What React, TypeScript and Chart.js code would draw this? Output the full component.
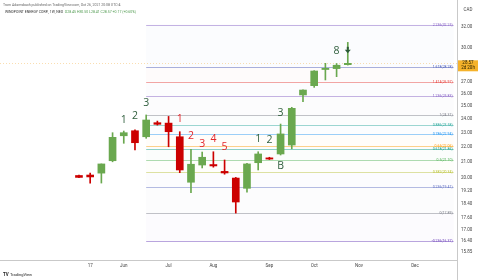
import React, { useEffect, useRef } from "react";
import { Chart, registerables } from "chart.js";

Chart.register(...registerables);

// ---- data (weekly candles, CAD) ----
const weeks = ["May 10", "May 17", "May 24", "May 31", "Jun 7", "Jun 14", "Jun 21", "Jun 28", "Jul 5", "Jul 12", "Jul 19", "Jul 26", "Aug 2", "Aug 9", "Aug 16", "Aug 23", "Aug 30", "Sep 6", "Sep 13", "Sep 20", "Sep 27", "Oct 4", "Oct 11", "Oct 18", "Oct 25"];
const opens = [20.12, 20.15, 20.27, 21.07, 22.78, 23.14, 22.71, 23.73, 23.7, 22.71, 19.7, 20.79, 20.82, 20.38, 19.96, 19.33, 20.94, 21.25, 21.52, 22.13, 25.88, 26.64, 28.02, 28.1, 28.45];
const highs = [20.14, 20.27, 20.86, 23.0, 23.12, 23.2, 24.31, 23.85, 24.2, 23.07, 21.84, 21.65, 21.67, 21.12, 20.0, 20.9, 21.67, 21.3, 23.63, 24.9, 26.3, 27.92, 28.57, 28.55, 30.5];
const lows = [19.98, 19.65, 19.65, 21.0, 22.25, 21.79, 22.6, 23.55, 22.01, 20.3, 19.07, 20.6, 20.65, 20.2, 17.89, 19.1, 20.47, 21.15, 21.45, 21.87, 25.34, 26.5, 27.12, 27.4, 28.41];
const closes = [20.0, 20.03, 20.86, 22.67, 23.0, 22.29, 23.93, 23.61, 23.07, 20.47, 20.84, 21.3, 20.73, 20.28, 18.52, 20.86, 21.52, 21.18, 22.91, 24.82, 26.28, 27.89, 28.04, 28.4, 28.57];

const xTickIdx = [1, 4, 8, 12, 17, 21, 25, 30];
const xTickText = ["17", "Jun", "Jul", "Aug", "Sep", "Oct", "Nov", "Dec"];
const yTicks = [32, 30, 27, 26, 25, 24, 23, 22, 21, 20, 19.2, 18.4, 17.6, 17, 16.4, 15.85];

// Fibonacci retracement levels drawn from the Jun 21 bar
const fibRatios = ["2.236", "1.618", "1.414", "1.236", "1", "0.886", "0.786", "0.65", "0.618", "0.5", "0.382", "0.236", "0", "-0.236"];
const fibValues = [32.25, 28.28, 26.97, 25.83, 24.31, 23.58, 22.94, 22.06, 21.86, 21.1, 20.34, 19.41, 17.89, 16.37];
const fibColors = ["#7e57c2", "#3f51b5", "#e53935", "#7e57c2", "#787b86", "#26a69a", "#2196f3", "#ff9800", "#089981", "#4caf50", "#b8c232", "#5c6bc0", "#787b86", "#673ab7"];
const fibStartIdx = 6;
const fibEndIdx = 33.45;

// sequential count labels
const tdIdx = [4, 5, 6, 9, 10, 11, 12, 13, 16, 17, 18, 18, 23];
const tdText = ["1", "2", "3", "1", "2", "3", "4", "5", "1", "2", "3", "B", "8"];
const tdPrice = [23.93, 24.23, 25.23, 24.0, 22.76, 22.2, 22.55, 21.99, 22.55, 22.48, 24.46, 20.73, 29.69];
const tdUp = [true, true, true, false, false, false, false, false, true, true, true, true, true];
const arrowIdx = 24;
const arrowPrice = 29.8;

const UP = "#6aa84f";
const DOWN = "#cc0000";
const LABEL_GREEN = "#2f5e3c";
const LABEL_RED = "#e3262b";

const overlay = {
  id: "overlay",
  beforeDatasetsDraw(chart: any) {
    const { ctx, chartArea } = chart;
    const xs = chart.scales.x;
    const ys = chart.scales.y;
    const x0 = xs.getPixelForValue(fibStartIdx);
    const x1 = xs.getPixelForValue(fibEndIdx);
    ctx.save();
    for (let i = 0; i < fibValues.length - 1; i++) {
      const ya = ys.getPixelForValue(fibValues[i]);
      const yb = ys.getPixelForValue(fibValues[i + 1]);
      ctx.globalAlpha = 0.018;
      ctx.fillStyle = fibColors[i + 1];
      ctx.fillRect(x0, ya, x1 - x0, yb - ya);
    }
    ctx.lineWidth = 1;
    ctx.font = "3.5px Roboto";
    ctx.textAlign = "right";
    ctx.textBaseline = "middle";
    for (let i = 0; i < fibValues.length; i++) {
      const y = Math.round(ys.getPixelForValue(fibValues[i])) + 0.5;
      ctx.globalAlpha = 0.45;
      ctx.strokeStyle = fibColors[i];
      ctx.beginPath();
      ctx.moveTo(x0, y);
      ctx.lineTo(x1, y);
      ctx.stroke();
      ctx.globalAlpha = 1;
      ctx.fillStyle = fibColors[i];
      ctx.fillText(`${fibRatios[i]}(${fibValues[i].toFixed(2)})`, x1 - 1, y);
    }
    // last price line
    const last = closes[closes.length - 1];
    const py = Math.round(ys.getPixelForValue(last)) + 0.5;
    ctx.globalAlpha = 0.35;
    ctx.strokeStyle = "#f0a020";
    ctx.setLineDash([1, 2]);
    ctx.beginPath();
    ctx.moveTo(chartArea.left, py);
    ctx.lineTo(chartArea.right, py);
    ctx.stroke();
    ctx.restore();
  },
  afterDatasetsDraw(chart: any) {
    const { ctx } = chart;
    const xs = chart.scales.x;
    const ys = chart.scales.y;
    ctx.save();
    ctx.font = "10.5px 'Open Sans'";
    ctx.textAlign = "center";
    ctx.textBaseline = "middle";
    for (let i = 0; i < tdIdx.length; i++) {
      ctx.fillStyle = tdUp[i] ? LABEL_GREEN : LABEL_RED;
      ctx.fillText(tdText[i], xs.getPixelForValue(tdIdx[i]), ys.getPixelForValue(tdPrice[i]));
    }
    // down arrow
    const ax = xs.getPixelForValue(arrowIdx);
    const ay = ys.getPixelForValue(arrowPrice);
    ctx.fillStyle = "#2a5a36";
    ctx.fillRect(ax - 1, ay - 3, 2, 3);
    ctx.beginPath();
    ctx.moveTo(ax - 3, ay);
    ctx.lineTo(ax + 3, ay);
    ctx.lineTo(ax, ay + 3.5);
    ctx.closePath();
    ctx.fill();
    ctx.restore();
  },
  afterDraw(chart: any) {
    const { ctx, chartArea } = chart;
    const ys = chart.scales.y;
    ctx.save();
    ctx.strokeStyle = "#c9c9c9";
    ctx.lineWidth = 1;
    ctx.beginPath();
    ctx.moveTo(chartArea.right + 0.5, chartArea.bottom);
    ctx.lineTo(chartArea.right + 0.5, 280);
    ctx.stroke();
    // header
    ctx.textAlign = "left";
    ctx.textBaseline = "middle";
    ctx.font = "3.5px Roboto";
    ctx.fillStyle = "#666";
    ctx.fillText("Trom Adamsbach published on TradingView.com, Oct 26, 2021 20:08 UTC-4", 3, 5);
    const name = "WINDPOINT ENERGY CORP., 1W, NEO  ";
    ctx.fillStyle = "#333";
    ctx.fillText(name, 5, 12);
    const w = ctx.measureText(name).width;
    const n = closes.length - 1;
    const chg = closes[n] - closes[n - 1];
    ctx.fillStyle = "#4f9a4f";
    ctx.fillText(
      `O${opens[n].toFixed(2)} H${highs[n].toFixed(2)} L${lows[n].toFixed(2)} C${closes[n].toFixed(2)} +${chg.toFixed(2)} (+${((chg / closes[n - 1]) * 100).toFixed(2)}%)`,
      5 + w,
      12
    );
    // currency
    ctx.font = "4.5px Roboto";
    ctx.fillStyle = "#444";
    ctx.textAlign = "center";
    ctx.fillText("CAD", chartArea.right + 11, 10);
    // last price label
    const last = closes[n];
    const py = ys.getPixelForValue(last);
    ctx.fillStyle = "#f5b22a";
    ctx.fillRect(chartArea.right + 1, py - 3, 20, 11);
    ctx.fillStyle = "#2b2100";
    ctx.font = "4.5px Roboto";
    ctx.fillText(last.toFixed(2), chartArea.right + 11, py);
    ctx.fillText("2d 20h", chartArea.right + 11, py + 5);
    // logo
    ctx.textAlign = "left";
    ctx.font = "bold 4.5px Roboto";
    ctx.fillStyle = "#222";
    ctx.fillText("TV", 3, 275);
    ctx.font = "4px Roboto";
    ctx.fillText("TradingView", 10, 275);
    ctx.restore();
  },
};

export default function App() {
  const ref = useRef<HTMLCanvasElement>(null);
  useEffect(() => {
    document.body.style.margin = "0";
    const canvas = ref.current;
    if (!canvas) return;
    const colors = closes.map((c, i) => (c >= opens[i] ? UP : DOWN));
    const chart = new Chart(canvas, {
      type: "bar",
      data: {
        datasets: [
          {
            label: "wick",
            data: weeks.map((_, i) => ({ x: i, y: [lows[i], highs[i]] })) as any,
            backgroundColor: colors,
            barThickness: 1,
            grouped: false,
            borderWidth: 0,
            order: 2,
          } as any,
          {
            label: "body",
            data: weeks.map((_, i) => ({ x: i, y: [opens[i], closes[i]] })) as any,
            backgroundColor: colors,
            barThickness: 7,
            minBarLength: 1.2,
            grouped: false,
            borderWidth: 0,
            order: 1,
          } as any,
        ],
      },
      options: {
        responsive: false,
        animation: false,
        devicePixelRatio: 1,
        layout: { padding: 0 },
        plugins: { legend: { display: false }, tooltip: { enabled: false } },
        scales: {
          x: {
            type: "linear",
            offset: false,
            min: -7.05,
            max: 33.75,
            grid: { display: false, drawTicks: false },
            border: { display: true, color: "#c9c9c9" },
            afterBuildTicks: (s: any) => {
              s.ticks = xTickIdx.map((v) => ({ value: v }));
            },
            afterFit: (s: any) => {
              s.height = 20;
              s.paddingLeft = 0;
              s.paddingRight = 0;
            },
            ticks: {
              autoSkip: false,
              maxRotation: 0,
              padding: 3,
              color: "#444",
              font: { size: 4.5, family: "Roboto" },
              callback: (v: any) => {
                const k = xTickIdx.indexOf(Number(v));
                return k >= 0 ? xTickText[k] : "";
              },
            },
          },
          y: {
            type: "logarithmic",
            position: "right",
            min: 15.45,
            max: 34.82,
            grid: { display: false, drawTicks: false },
            border: { display: true, color: "#c9c9c9" },
            afterBuildTicks: (s: any) => {
              s.ticks = yTicks.map((v) => ({ value: v }));
            },
            afterFit: (s: any) => {
              s.width = 22;
              s.paddingTop = 0;
              s.paddingBottom = 0;
            },
            ticks: {
              autoSkip: false,
              padding: 4,
              color: "#444",
              font: { size: 4.5, family: "Roboto" },
              callback: (v: any) => Number(v).toFixed(2),
            },
          },
        },
      } as any,
      plugins: [overlay],
    });
    return () => chart.destroy();
  }, []);
  return (
    <div style={{ width: 479, height: 280 }}>
      <canvas ref={ref} width={479} height={280} style={{ display: "block" }} />
    </div>
  );
}
